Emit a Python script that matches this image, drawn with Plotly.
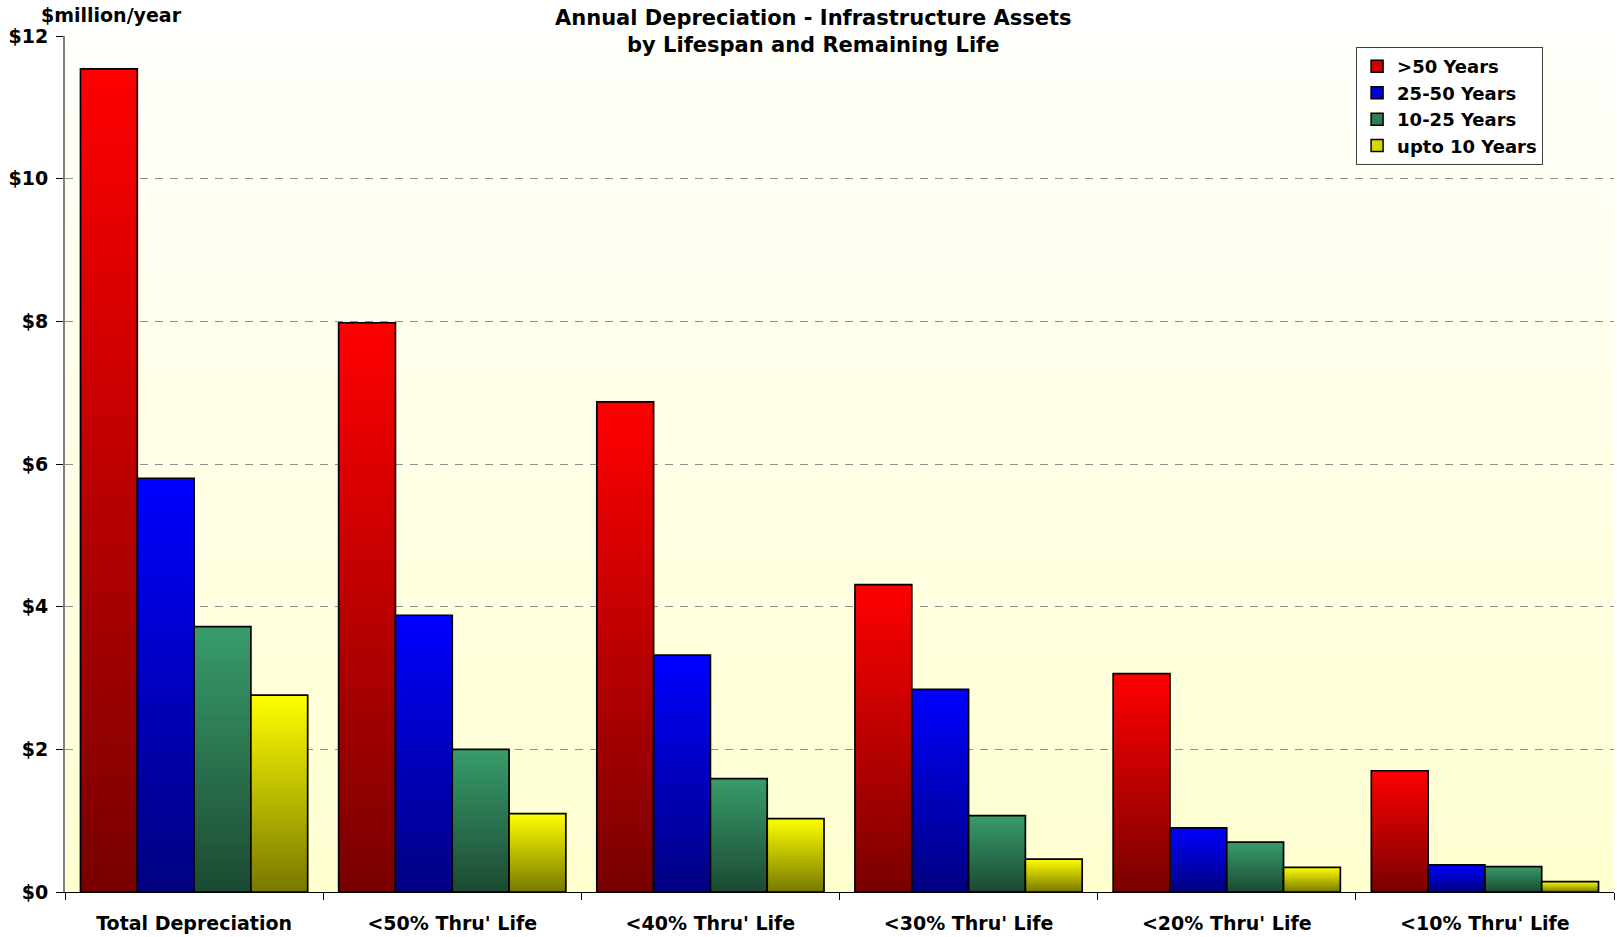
import plotly.graph_objects as go

# Categories on the x axis
categories = [
    "Total Depreciation",
    "<50% Thru' Life",
    "<40% Thru' Life",
    "<30% Thru' Life",
    "<20% Thru' Life",
    "<10% Thru' Life",
]

# Annual depreciation ($ million / year) by asset lifespan
over_50 = [11.54, 7.98, 6.87, 4.31, 3.06, 1.70]
yrs_25_50 = [5.80, 3.88, 3.32, 2.84, 0.90, 0.38]
yrs_10_25 = [3.72, 2.00, 1.59, 1.07, 0.70, 0.355]
upto_10 = [2.76, 1.10, 1.03, 0.46, 0.345, 0.145]

series_names = [">50 Years", "25-50 Years", "10-25 Years", "upto 10 Years"]
series_values = [over_50, yrs_25_50, yrs_10_25, upto_10]

# Vertical gradient per series: (bottom colour, top colour), plus legend swatch colour
gradients = [
    ((0x78, 0x00, 0x00), (0xFF, 0x00, 0x00)),
    ((0x00, 0x00, 0x80), (0x00, 0x00, 0xFF)),
    ((0x1C, 0x4A, 0x33), (0x38, 0x9C, 0x6A)),
    ((0x78, 0x78, 0x00), (0xFF, 0xFF, 0x00)),
]
swatch_colors = ["#D40000", "#0000D8", "#2E7D55", "#D8D800"]

FONT = "DejaVu Sans"
N_SLICES = 50


def mix(c0, c1, t):
    return "rgb({},{},{})".format(*(round(a + (b - a) * t) for a, b in zip(c0, c1)))


fig = go.Figure()

for s, (name, vals) in enumerate(zip(series_names, series_values)):
    bottom, top = gradients[s]
    # Overlapping bars from full height down to the shortest, each a shade
    # darker, so every bar shades from bright at the top to dark at the base
    for k in range(N_SLICES - 1, -1, -1):
        frac = (k + 1) / N_SLICES
        t = (k + 0.5) / N_SLICES
        fig.add_trace(go.Bar(
            x=categories,
            y=[v * frac for v in vals],
            offsetgroup=str(s),
            marker=dict(color=mix(bottom, top, t), line=dict(width=0)),
            showlegend=False,
            hoverinfo="skip",
        ))
    # Black outline over the whole bar
    fig.add_trace(go.Bar(
        x=categories,
        y=vals,
        offsetgroup=str(s),
        marker=dict(color="rgba(0,0,0,0)", line=dict(color="black", width=1.7)),
        name=name,
        showlegend=False,
        hovertemplate="%{x}<br>" + name + ": $%{y:.2f}M<extra></extra>",
    ))
    # Legend entry
    fig.add_trace(go.Bar(
        x=[categories[0]],
        y=[None],
        offsetgroup=str(s),
        name=name,
        marker=dict(color=swatch_colors[s], line=dict(color="black", width=1.5)),
        showlegend=True,
        hoverinfo="skip",
    ))

# Plot-area background: near-white at the top fading to pale yellow at the bottom
bg_top = (0xFF, 0xFF, 0xFB)
bg_bottom = (0xFF, 0xFF, 0xD0)
n_bands = 60
shapes = []
for i in range(n_bands):
    t = (i + 0.5) / n_bands
    shapes.append(dict(
        type="rect", xref="paper", yref="paper",
        x0=0, x1=1, y0=i / n_bands, y1=(i + 1) / n_bands + 0.002,
        fillcolor=mix(bg_bottom, bg_top, t), line=dict(width=0), layer="below",
    ))

text_font = dict(family=FONT, size=19, color="black", weight="bold")

fig.update_layout(
    width=1617,
    height=937,
    margin=dict(l=65, r=3, t=36, b=43),
    paper_bgcolor="white",
    plot_bgcolor="white",
    barmode="group",
    bargap=0.12,
    bargroupgap=0,
    shapes=shapes,
    font=text_font,
    legend=dict(
        x=0.8335, y=0.987, xanchor="left", yanchor="top",
        bgcolor="white", bordercolor="#404040", borderwidth=1,
        font=dict(family=FONT, size=18, color="black", weight="bold"),
        tracegroupgap=0,
    ),
    annotations=[
        dict(
            text="Annual Depreciation - Infrastructure Assets<br>by Lifespan and Remaining Life",
            xref="paper", yref="paper", x=0.4829, y=1.0055,
            xanchor="center", yanchor="middle", align="center",
            showarrow=False,
            font=dict(family=FONT, size=21, color="black", weight="bold"),
        ),
        dict(
            text="$million/year", xref="paper", yref="paper",
            x=-0.0165, y=1.0245, xanchor="left", yanchor="middle",
            showarrow=False, font=text_font,
        ),
    ],
)

fig.update_xaxes(
    type="category",
    tickson="boundaries",
    ticks="outside", ticklen=7, tickcolor="black",
    showline=True, linecolor="black", linewidth=1,
    showgrid=False,
    ticklabelstandoff=14,
)
fig.update_yaxes(
    range=[0, 12], dtick=2, tickprefix="$",
    ticks="outside", ticklen=7, tickcolor="black",
    showline=True, linecolor="#808080", linewidth=2,
    showgrid=True, gridcolor="#909090", gridwidth=1, griddash="8px,7px",
    zeroline=False,
    ticklabelstandoff=4,
)

fig.write_html("out.html")
